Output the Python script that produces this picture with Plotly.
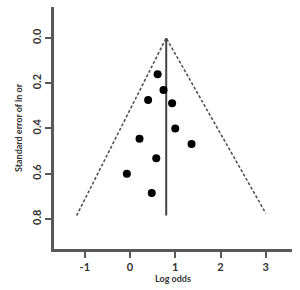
import plotly.graph_objects as go

# study estimates
log_odds = [0.61, 0.74, 0.40, 0.93, 1.00, 0.21, 1.36, 0.58, -0.07, 0.48]
std_err = [0.16, 0.23, 0.274, 0.289, 0.40, 0.445, 0.469, 0.532, 0.60, 0.685]

# pooled estimate and funnel limits
pooled = 0.80
funnel_x = [-1.18, 0.80, 3.00]
funnel_y = [0.785, 0.0, 0.775]
pooled_se = [0.0, 0.785]

x_ticks = [-1, 0, 1, 2, 3]
y_ticks = [0.0, 0.2, 0.4, 0.6, 0.8]

axcol = "#595959"
font = "Lato"

fig = go.Figure()
fig.add_trace(go.Scatter(x=funnel_x, y=funnel_y, mode="lines",
                         line=dict(color="#555555", width=1.6, dash="3px,2px"),
                         hoverinfo="skip"))
fig.add_trace(go.Scatter(x=[pooled, pooled], y=pooled_se, mode="lines",
                         line=dict(color="#444444", width=2), hoverinfo="skip"))
fig.add_trace(go.Scatter(x=log_odds, y=std_err, mode="markers",
                         marker=dict(color="black", size=8, symbol="circle")))

fig.update_layout(
    width=300, height=290,
    margin=dict(l=54, r=8, t=7, b=41),
    paper_bgcolor="white", plot_bgcolor="white",
    showlegend=False,
    font=dict(family=font, color="#333333"),
    xaxis=dict(range=[-1.68, 3.58], tickvals=x_ticks, ticktext=[str(v) for v in x_ticks],
               showgrid=False, zeroline=False, showline=True, linecolor=axcol, linewidth=2.5,
               ticks="outside", ticklen=6, tickwidth=2, tickcolor=axcol,
               tickfont=dict(family=font, size=11, weight="bold", color="#333333"),
               title=dict(text="Log odds", font=dict(family=font, size=9, weight="bold", color="#333333"),
                          standoff=4)),
    yaxis=dict(range=[0.933, -0.137], tickvals=y_ticks, ticktext=[f"{v:.1f}" for v in y_ticks],
               showgrid=False, zeroline=False, showline=True, linecolor=axcol, linewidth=2.5,
               ticks="outside", ticklen=6, tickwidth=2, tickcolor=axcol, tickangle=-90,
               tickfont=dict(family=font, size=11, weight="bold", color="#333333"),
               title=dict(text="Standard error of ln or", font=dict(family=font, size=9, weight="bold", color="#333333"),
                          standoff=6)),
)

fig.write_html("out.html")
